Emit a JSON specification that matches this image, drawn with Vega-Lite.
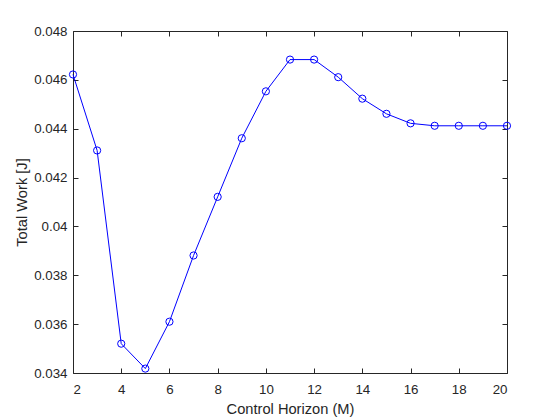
{
  "$schema": "https://vega.github.io/schema/vega-lite/v6.json",
  "width": 434,
  "height": 342,
  "autosize": {"type": "none"},
  "padding": {"left": 73, "top": 31, "right": 53, "bottom": 47},
  "background": "white",
  "config": {
    "view": {"stroke": null},
    "font": "Liberation Sans",
    "axis": {
      "domainColor": "#262626",
      "domainWidth": 1,
      "tickColor": "#262626",
      "tickWidth": 1,
      "tickSize": -5,
      "grid": false,
      "labelFont": "Liberation Sans",
      "labelFontSize": 13.33,
      "labelColor": "#262626",
      "titleFont": "Liberation Sans",
      "titleFontSize": 14.67,
      "titleFontWeight": "normal",
      "titleColor": "#262626"
    }
  },
  "data": {
    "values": [
      {"M": 2, "work": 0.04622},
      {"M": 3, "work": 0.04311},
      {"M": 4, "work": 0.03520},
      {"M": 5, "work": 0.03418},
      {"M": 6, "work": 0.03610},
      {"M": 7, "work": 0.03881},
      {"M": 8, "work": 0.04121},
      {"M": 9, "work": 0.04361},
      {"M": 10, "work": 0.04553},
      {"M": 11, "work": 0.04683},
      {"M": 12, "work": 0.04683},
      {"M": 13, "work": 0.04611},
      {"M": 14, "work": 0.04523},
      {"M": 15, "work": 0.04461},
      {"M": 16, "work": 0.04422},
      {"M": 17, "work": 0.04412},
      {"M": 18, "work": 0.04412},
      {"M": 19, "work": 0.04412},
      {"M": 20, "work": 0.04412}
    ]
  },
  "layer": [
    {
      "mark": {
        "type": "line",
        "color": "#0000ff",
        "strokeWidth": 1,
        "point": {"filled": false, "shape": "circle", "size": 52, "strokeWidth": 1, "color": "#0000ff", "opacity": 1}
      },
      "encoding": {
        "x": {
          "field": "M", "type": "quantitative",
          "scale": {"domain": [2, 20], "nice": false, "zero": false},
          "axis": {"orient": "bottom", "values": [2, 4, 6, 8, 10, 12, 14, 16, 18, 20], "labelPadding": 14, "title": "Control Horizon (M)", "titlePadding": 6}
        },
        "y": {
          "field": "work", "type": "quantitative",
          "scale": {"domain": [0.034, 0.048], "nice": false, "zero": false},
          "axis": {"orient": "left", "values": [0.034, 0.036, 0.038, 0.04, 0.042, 0.044, 0.046, 0.048], "format": "~g", "labelPadding": 11, "title": "Total Work [J]", "titlePadding": 4}
        }
      }
    },
    {
      "mark": {"type": "line", "opacity": 0},
      "encoding": {
        "x": {
          "field": "M", "type": "quantitative",
          "axis": {"orient": "top", "values": [2, 4, 6, 8, 10, 12, 14, 16, 18, 20], "labels": false, "title": null}
        },
        "y": {
          "field": "work", "type": "quantitative",
          "axis": {"orient": "right", "values": [0.034, 0.036, 0.038, 0.04, 0.042, 0.044, 0.046, 0.048], "labels": false, "title": null}
        }
      }
    }
  ],
  "resolve": {"axis": {"x": "independent", "y": "independent"}}
}
